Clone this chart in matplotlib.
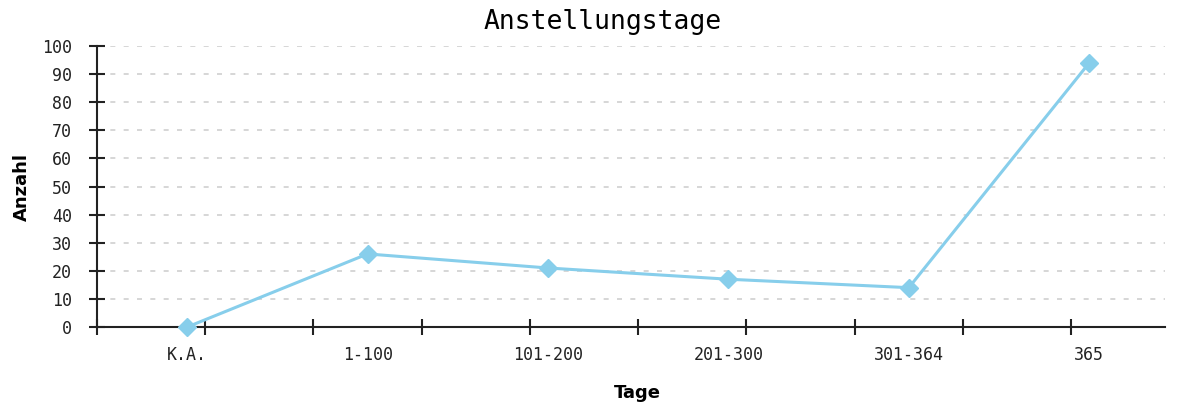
import matplotlib
matplotlib.use("Agg")
import matplotlib.pyplot as plt
import numpy as np

categories = ["K.A.", "1-100", "101-200", "201-300", "301-364", "365"]
values = [0, 26, 21, 17, 14, 94]
y_ticks = list(range(0, 101, 10))

W, H = 1179, 405
fig = plt.figure(figsize=(W / 100, H / 100), dpi=100)
left, right, bottom, top = 97, 1165, 327, 46
ax = fig.add_axes([left / W, 1 - bottom / H, (right - left) / W, (bottom - top) / H])

x = np.arange(len(categories))
ax.plot(x, values, color="#87CEEB", lw=2.2, marker="D", markersize=9.5,
        markeredgecolor="#87CEEB", zorder=3, clip_on=False)

ax.set_xlim(-0.5, 5.42)
ax.set_ylim(0, 100)
ax.set_yticks(y_ticks)
ax.set_yticklabels([str(v) for v in y_ticks], family="DejaVu Sans Mono", fontsize=12, color="#222222")
ax.set_xticks(x)
ax.set_xticklabels(categories, family="DejaVu Sans Mono", fontsize=12, color="#222222")
ax.set_xticks(np.arange(-0.5, 5.0, 0.6), minor=True)

ax.tick_params(axis="x", which="major", length=0, pad=14)
ax.tick_params(axis="x", which="minor", direction="inout", length=12, width=1.5, color="#222222")
ax.tick_params(axis="y", which="major", direction="inout", length=12, width=1.5, color="#222222", pad=12)

for s in ["top", "right"]:
    ax.spines[s].set_visible(False)
for s in ["left", "bottom"]:
    ax.spines[s].set_linewidth(1.5)
    ax.spines[s].set_color("#222222")

ax.grid(axis="y", color="#d0d0d0", linestyle=(0, (3, 5)), linewidth=1.2)
ax.grid(axis="x", visible=False)
ax.set_axisbelow(True)

fig.text(603 / W, 1 - 22 / H, "Anstellungstage", family="DejaVu Sans Mono",
         fontsize=19, ha="center", va="center")
fig.text(22 / W, 1 - 187 / H, "Anzahl", family="DejaVu Sans", fontweight="bold",
         fontsize=13, ha="center", va="center", rotation=90)
fig.text(637 / W, 1 - 393 / H, "Tage", family="DejaVu Sans", fontweight="bold",
         fontsize=13, ha="center", va="center")

fig.savefig("out.png", dpi=100)
